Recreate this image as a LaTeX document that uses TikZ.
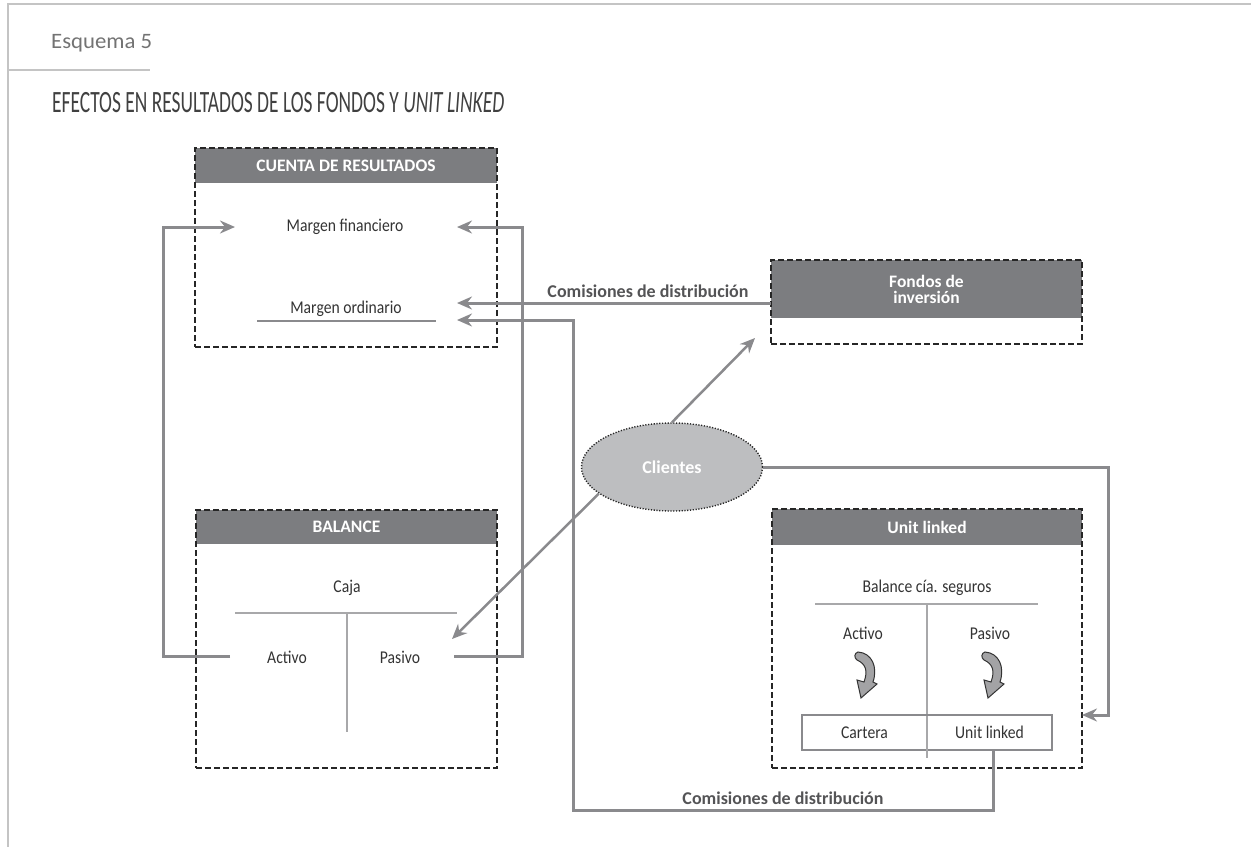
\documentclass[tikz,border=0pt]{standalone}
\usepackage{fontspec}
\setmainfont{Carlito}
\newfontfamily\lightf{Carlito}[FakeStretch=0.87]
\usetikzlibrary{arrows.meta,shapes.geometric}
\definecolor{cgray}{HTML}{8A8A8D}
\definecolor{hdr}{HTML}{7C7D80}
\definecolor{tline}{HTML}{A8A8AA}
\definecolor{framec}{HTML}{C4C4C4}
\definecolor{txt}{HTML}{333333}
\definecolor{lbl}{HTML}{545456}
\definecolor{cli}{HTML}{BDBEC0}
\definecolor{cfill}{HTML}{A3A3A5}
\tikzset{
  conn/.style={draw=cgray, line width=3pt},
  arr/.style={conn, -{Stealth[length=15pt,width=13pt,inset=5pt]}},
  dashbox/.style={draw=black!85, line width=1.6pt, dash pattern=on 6pt off 3pt, inner sep=0pt},
  hdrbox/.style={fill=hdr, text=white, inner sep=0pt, font=\bfseries\fontsize{17.5}{19}\selectfont, align=center},
  body/.style={text=txt, inner sep=0pt, font=\lightf\fontsize{18}{21}\selectfont},
  lab/.style={text=lbl, inner sep=0pt, font=\bfseries\fontsize{18}{21}\selectfont},
  tl/.style={draw=tline, line width=2pt},
  curv/.style={fill=cfill, draw=black!80, line width=1pt},
}
\begin{document}
\begin{tikzpicture}[x=1pt,y=-1pt]
\useasboundingbox (0,0) rectangle (1251,847);
% frame
\draw[framec, line width=2.5pt] (1251,4) -- (8,4) -- (8,847);
\draw[framec, line width=2pt] (8,70) -- (150,70);
\node[anchor=base west, inner sep=0pt, text=black!55, font=\lightf\fontsize{22}{25}\selectfont] (esq) at (51,48) {\resizebox{101pt}{\height}{Esquema 5}};
\node[anchor=base west, inner sep=0pt, text=black!75, font=\fontsize{31}{34}\selectfont] (title) at (52,112)
  {\resizebox{452pt}{\height}{EFECTOS EN RESULTADOS DE LOS FONDOS Y \itshape UNIT LINKED}};

% Cuenta de resultados
\node[hdrbox, minimum width=302pt, minimum height=35pt] (cuentaH) at (346,165.5) {CUENTA DE RESULTADOS};
\node[dashbox, minimum width=302pt, minimum height=199pt] (cuenta) at (346,247.5) {};
\node[body] (mfin) at (345,227) {Margen financiero};
\node[body] (mord) at (346,309) {Margen ordinario};
\draw[conn, line width=2pt] (257,321) -- (436,321);

% Balance
\node[hdrbox, minimum width=301pt, minimum height=34pt] (balH) at (346.5,527) {BALANCE};
\node[dashbox, minimum width=301pt, minimum height=258pt] (bal) at (346.5,639) {};
\node[body] (caja) at (347,588) {Caja};
\node[body] (actB) at (287,657) {Activo};
\node[body] (pasB) at (400,657) {Pasivo};
\draw[tl] (235,613) -- (457,613);
\draw[tl] (347,613) -- (347,732);

% Fondos de inversion
\node[hdrbox, minimum width=311pt, minimum height=58pt] (fondH) at (926.5,289) {Fondos de\\[-3pt]inversión};
\node[dashbox, minimum width=311pt, minimum height=84pt] (fond) at (926.5,302) {};

% Unit linked
\node[hdrbox, minimum width=310pt, minimum height=36pt] (ulH) at (927,527) {Unit linked};
\node[dashbox, minimum width=310pt, minimum height=259pt] (ul) at (927,638.5) {};
\node[body] (bcs) at (927,588) {Balance cía. seguros};
\node[body] (actU) at (863,633) {Activo};
\node[body] (pasU) at (990,633) {Pasivo};
\draw[tl] (815,604) -- (1038,604);
\draw[tl] (927,604) -- (927,758);
\node[body, draw=cgray, line width=2.5pt, minimum width=125pt, minimum height=35pt] (cart) at (864.5,732.5) {Cartera};
\node[body, draw=cgray, line width=2.5pt, minimum width=125pt, minimum height=35pt] (ulc) at (989.5,732.5) {Unit linked};
\draw[tl] (927,716) -- (927,758);

% curved arrows
\foreach \cx in {866, 993}{
  \draw[curv, shift={(\cx,675)}]
    (-8,-23) .. controls (6,-22) and (12,-8) .. (7,7)
    -- (11,9) -- (-5,23) -- (-9,5) -- (-2,7)
    .. controls (2,-4) and (0,-11) .. (-9,-15)
    .. controls (-12,-17) and (-12,-22) .. cycle;
}

% Clientes
\node[ellipse, minimum width=181pt, minimum height=88pt, inner sep=0pt, fill=cli, draw=black!85, line width=1.4pt, dash pattern=on 1.2pt off 1.6pt, text=white, font=\bfseries\fontsize{18}{20}\selectfont] (cl) at (672,467) {Clientes};

% coordinates
\coordinate (aL) at (230,656);
\coordinate (mfL) at (235,227);
\coordinate (pR) at (454,656);
\coordinate (mfR) at (457,227);
\coordinate (fW) at (771,303);
\coordinate (mo1) at (457,303);
\coordinate (ulB) at (993,750);
\coordinate (mo2) at (457,320);
\coordinate (fT) at (755,338);
\coordinate (pT) at (452,639);
\coordinate (ulE) at (1082,715);

% connectors
\draw[arr] (aL) -- (163,656) |- (mfL);
\draw[arr] (pR) -- (522,656) |- (mfR);
\draw[arr] (fW) -- (mo1);
\node[lab] (com1) at (648,291) {Comisiones de distribución};
\draw[arr] (ulB) -- (993,810) -| (573,320) -- (mo2);
\node[lab] (com2) at (783,798) {Comisiones de distribución};
\draw[arr, line width=2.5pt] (cl.north) -- (fT);
\draw[arr, line width=2.5pt] (cl.200) -- (pT);
\draw[arr] (cl.east) -- (1108,467) |- (ulE);
\end{tikzpicture}
\end{document}
